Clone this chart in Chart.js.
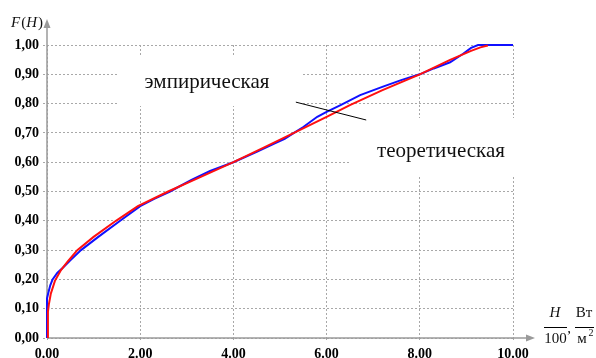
<!DOCTYPE html>
<html><head><meta charset="utf-8">
<script src="https://cdn.jsdelivr.net/npm/chart.js@4"></script>
<style>html,body{margin:0;padding:0;background:#fff}#wrap{width:596px;height:358px}</style>
</head><body><div id="wrap"><canvas id="c" width="596" height="358"></canvas></div>
<script>
// ---- data ----
const xTickValues = [0, 2, 4, 6, 8, 10];
const yTickValues = [0, 0.1, 0.2, 0.3, 0.4, 0.5, 0.6, 0.7, 0.8, 0.9, 1.0];
const theorX = [0.02,0.02,0.04,0.08,0.17,0.30,0.45,0.65,1.00,1.48,1.95,2.60,3.30,4.00,4.65,5.30,6.00,6.50,7.20,8.00,8.65,9.10,9.30,9.46];
const theorY = [0,0.09,0.115,0.15,0.195,0.232,0.262,0.30,0.345,0.40,0.45,0.50,0.55,0.60,0.65,0.70,0.755,0.795,0.846,0.90,0.949,0.98,0.992,0.998];
const empX = [0,0,0.03,0.07,0.12,0.22,0.34,0.50,0.73,1.10,1.57,2.00,2.30,2.64,3.10,3.50,4.00,4.50,4.90,5.10,5.30,5.50,5.80,6.00,6.30,6.72,7.21,7.60,8.00,8.30,8.65,8.93,9.10,9.25,10.0];
const empY = [0,0.135,0.155,0.18,0.20,0.222,0.24,0.265,0.30,0.345,0.40,0.45,0.475,0.50,0.54,0.57,0.60,0.635,0.665,0.68,0.70,0.72,0.755,0.772,0.795,0.829,0.858,0.88,0.90,0.92,0.941,0.97,0.99,1.0,1.0];
const seriesNames = ['эмпирическая', 'теоретическая'];
const leaderX = [5.34, 6.85];
const leaderY = [0.805, 0.744];

const toPts = (xs, ys) => xs.map((x, i) => ({x, y: ys[i]}));
const serif = '"Liberation Serif", "Times New Roman", serif';

const decor = {
  id: 'decor',
  beforeDatasetsDraw(chart) {
    const {ctx, chartArea: a} = chart;
    ctx.save();
    ctx.fillStyle = '#fff';
    ctx.fillRect(117, 55, 186, 51);
    ctx.fillRect(350, 118, 170, 58);
    // axes with arrows
    ctx.strokeStyle = '#9a9a9a';
    ctx.fillStyle = '#9a9a9a';
    ctx.lineWidth = 1.5;
    ctx.beginPath();
    ctx.moveTo(a.left, a.bottom); ctx.lineTo(a.left, 26);
    ctx.moveTo(a.left, a.bottom); ctx.lineTo(527, a.bottom);
    ctx.stroke();
    ctx.beginPath();
    ctx.moveTo(a.left, 19); ctx.lineTo(a.left - 3.5, 28); ctx.lineTo(a.left + 3.5, 28); ctx.closePath(); ctx.fill();
    ctx.beginPath();
    ctx.moveTo(535, a.bottom); ctx.lineTo(526, a.bottom - 3.5); ctx.lineTo(526, a.bottom + 3.5); ctx.closePath(); ctx.fill();
    ctx.restore();
  },
  afterDatasetsDraw(chart) {
    const {ctx, scales: {x, y}} = chart;
    ctx.save();
    // leader line
    ctx.strokeStyle = '#000';
    ctx.lineWidth = 1;
    ctx.beginPath();
    ctx.moveTo(x.getPixelForValue(leaderX[0]), y.getPixelForValue(leaderY[0]));
    ctx.lineTo(x.getPixelForValue(leaderX[1]), y.getPixelForValue(leaderY[1]));
    ctx.stroke();
    // series labels
    ctx.fillStyle = '#111';
    ctx.font = '21px ' + serif;
    ctx.textAlign = 'center';
    ctx.textBaseline = 'alphabetic';
    ctx.fillText(seriesNames[0], 207, 88);
    ctx.fillText(seriesNames[1], 441, 157);
    // F(H)
    ctx.textAlign = 'left';
    let cx = 11;
    const parts = [['F', true], ['(', false], ['H', true], [')', false]];
    for (const [t, it] of parts) {
      ctx.font = (it ? 'italic ' : '') + '15px ' + serif;
      ctx.fillText(t, cx, 27);
      cx += ctx.measureText(t).width + (it ? 1 : 0);
    }
    // x unit fraction
    ctx.textAlign = 'center';
    ctx.font = 'italic 15px ' + serif;
    ctx.fillText('H', 555, 317);
    ctx.font = '15px ' + serif;
    ctx.fillText('100', 555.5, 343);
    ctx.fillText(',', 569, 333);
    ctx.fillText('Вт', 584, 317);
    ctx.fillText('м', 582, 343);
    ctx.font = '10px ' + serif;
    ctx.fillText('2', 591, 336);
    ctx.strokeStyle = '#000';
    ctx.lineWidth = 1;
    ctx.beginPath();
    ctx.moveTo(544, 327.5); ctx.lineTo(567, 327.5);
    ctx.moveTo(575, 327.5); ctx.lineTo(594, 327.5);
    ctx.stroke();
    ctx.restore();
  }
};

new Chart(document.getElementById('c'), {
  type: 'scatter',
  data: {
    datasets: [
      {label: seriesNames[1], data: toPts(theorX, theorY), showLine: true, borderColor: '#ff1010', borderWidth: 2, pointRadius: 0, tension: 0, clip: 6},
      {label: seriesNames[0], data: toPts(empX, empY), showLine: true, borderColor: '#1010ff', borderWidth: 2, pointRadius: 0, tension: 0, clip: 6}
    ]
  },
  options: {
    responsive: false,
    animation: false,
    devicePixelRatio: 1,
    layout: {padding: {top: 45, right: 83, left: 0, bottom: 0}},
    plugins: {legend: {display: false}, tooltip: {enabled: false}},
    scales: {
      x: {
        type: 'linear', min: 0, max: 10,
        afterFit: s => { s.height = 20; },
        afterBuildTicks: s => { s.ticks = xTickValues.map(v => ({value: v})); },
        grid: {color: '#a8a8a8', lineWidth: 1, tickLength: 4, tickBorderDash: [2, 2], tickColor: '#a8a8a8'},
        border: {display: false, dash: [2, 2]},
        ticks: {padding: 4, color: '#000', font: {family: serif, size: 14, weight: 'bold'}, maxRotation: 0,
          callback: v => Number(v).toFixed(2)}
      },
      y: {
        type: 'linear', min: 0, max: 1,
        afterFit: s => { s.width = 47; },
        afterBuildTicks: s => { s.ticks = yTickValues.map(v => ({value: v})); },
        grid: {color: '#a8a8a8', lineWidth: 1, tickLength: 4, tickBorderDash: [2, 2], tickColor: '#a8a8a8'},
        border: {display: false, dash: [2, 2]},
        ticks: {padding: 4, color: '#000', font: {family: serif, size: 14, weight: 'bold'},
          callback: v => Number(v).toFixed(2).replace('.', ',')}
      }
    }
  },
  plugins: [decor]
});
</script>
</body></html>
